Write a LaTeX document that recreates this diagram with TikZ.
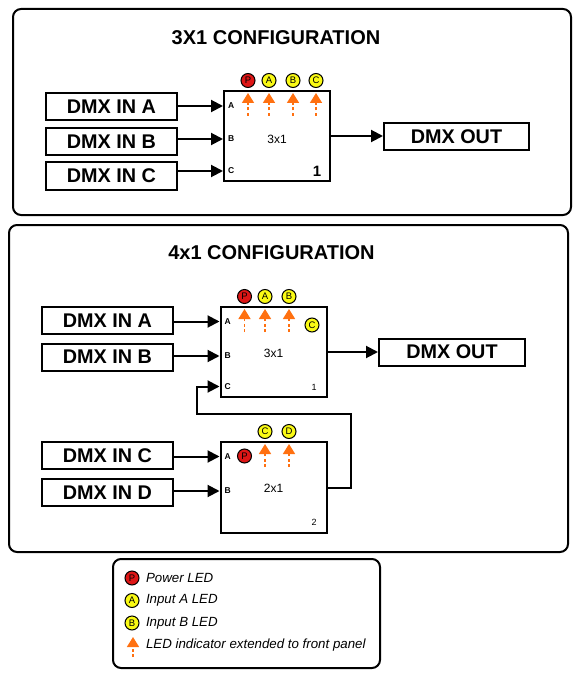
\documentclass[tikz,border=0pt]{standalone}
\usepackage{fontspec}
\setmainfont{Liberation Sans}
\usetikzlibrary{arrows.meta}
\definecolor{ledred}{RGB}{222,22,22}
\definecolor{ledyel}{RGB}{250,250,20}
\definecolor{indor}{RGB}{255,112,16}

\begin{document}
\begin{tikzpicture}[x=1pt, y=-1pt, line width=2pt,
  dmx/.style={draw, rectangle, minimum height=27pt, minimum width=131pt, inner sep=0pt, font=\fontsize{19.8}{19.8}\selectfont\bfseries},
  mx/.style={draw, rectangle, minimum height=90pt, minimum width=106pt, inner sep=0pt},
  ttl/.style={font=\fontsize{20}{20}\selectfont\bfseries},
  prt/.style={anchor=west, inner sep=0pt, font=\fontsize{8.5}{8.5}\selectfont\bfseries},
  led/.style={draw, circle, line width=1pt, fill=ledyel, minimum size=14pt, inner sep=0pt, font=\fontsize{9.5}{9.5}\selectfont},
  pwr/.style={led, fill=ledred},
  ind/.style={indor, line width=1.6pt, dash pattern=on 3pt off 2.5pt, -{Triangle[length=10pt, width=12pt]}},
  arr/.style={-{Triangle[length=12pt, width=12pt]}},
  pnl/.style={rounded corners=8pt, line width=2pt},
  lgd/.style={anchor=west, inner sep=0pt, font=\fontsize{13.3}{13.3}\selectfont\itshape}]

  \useasboundingbox (0,0) rectangle (579,679);

  % 3x1 configuration
  \draw[pnl] (13,9) rectangle (571,215);
  \node[ttl] (h1) at (276,38) {3X1 CONFIGURATION};
  \draw (111.5,107) node[dmx] (ina) {DMX IN A}
    ++(0,34.5) node[dmx] (inb) {DMX IN B}
    ++(0,34.5) node[dmx] (inc) {DMX IN C};
  \node[mx] (mx) at (277,136) {};
  \node[font=\fontsize{12}{12}\selectfont] (tx) at ([yshift=-3pt]mx.center) {3x1};
  \node[font=\fontsize{15}{15}\selectfont\bfseries] (nx) at ([xshift=-14pt, yshift=11pt]mx.south east) {1};
  \node[prt] (pa) at ([xshift=4pt, yshift=-16pt]mx.north west) {A};
  \node[prt] (pb) at ([xshift=4pt, yshift=-49pt]mx.north west) {B};
  \node[prt] (pc) at ([xshift=4pt, yshift=-81pt]mx.north west) {C};
  \node[pwr] (lp) at ([xshift=25pt, yshift=9.5pt]mx.north west) {P};
  \node[led] (la) at ([xshift=46pt, yshift=9.5pt]mx.north west) {A};
  \node[led] (lb) at ([xshift=70pt, yshift=9.5pt]mx.north west) {B};
  \node[led] (lc) at ([xshift=93pt, yshift=9.5pt]mx.north west) {C};
  \draw[ind] (lp |- mx.north) ++(0,26) -- ++(0,-23);
  \draw[ind] (la |- mx.north) ++(0,26) -- ++(0,-23);
  \draw[ind] (lb |- mx.north) ++(0,26) -- ++(0,-23);
  \draw[ind] (lc |- mx.north) ++(0,26) -- ++(0,-23);
  \draw[arr] (ina.east |- pa) -- (pa -| mx.west);
  \draw[arr] (inb.east |- pb) -- (pb -| mx.west);
  \draw[arr] (inc.east |- pc) -- (pc -| mx.west);
  \node[dmx, minimum width=145pt] (out) at (456.5,136.5) {DMX OUT};
  \draw[arr] (mx.east) -- (mx.east -| out.west);

  % 4x1 configuration
  \draw[pnl] (9,225) rectangle (568,552);
  \node[ttl] (h2) at (271.5,253) {4x1 CONFIGURATION};
  \draw (107.5,320.5) node[dmx] (ia) {DMX IN A}
    ++(0,36.5) node[dmx] (ib) {DMX IN B}
    ++(0,98.5) node[dmx] (ic) {DMX IN C}
    ++(0,37) node[dmx] (id) {DMX IN D};
  \node[mx] (mxa) at (273.5,352) {};
  \node[font=\fontsize{12}{12}\selectfont] (txa) at ([yshift=-1pt]mxa.center) {3x1};
  \node[font=\fontsize{9}{9}\selectfont] (nxa) at ([xshift=-13.5pt, yshift=11pt]mxa.south east) {1};
  \node[prt] (qa) at ([xshift=4pt, yshift=-15.5pt]mxa.north west) {A};
  \node[prt] (qb) at ([xshift=4pt, yshift=-50pt]mxa.north west) {B};
  \node[prt] (qc) at ([xshift=4pt, yshift=-80.5pt]mxa.north west) {C};
  \node[pwr] (lp1) at ([xshift=25pt, yshift=9.5pt]mxa.north west) {P};
  \node[led] (la1) at ([xshift=45.5pt, yshift=9.5pt]mxa.north west) {A};
  \node[led] (lb1) at ([xshift=69.5pt, yshift=9.5pt]mxa.north west) {B};
  \node[led] (lc1) at ([xshift=92.5pt, yshift=-19pt]mxa.north west) {C};
  \draw[ind] (lp1 |- mxa.north) ++(0,26) -- ++(0,-23);
  \draw[ind] (la1 |- mxa.north) ++(0,26) -- ++(0,-23);
  \draw[ind] (lb1 |- mxa.north) ++(0,26) -- ++(0,-23);
  \node[mx, minimum height=91pt] (mxb) at (273.5,487.5) {};
  \node[font=\fontsize{12}{12}\selectfont] (txb) at ([yshift=-1pt]mxb.center) {2x1};
  \node[font=\fontsize{9}{9}\selectfont] (nxb) at ([xshift=-13.5pt, yshift=12pt]mxb.south east) {2};
  \node[prt] (ra) at ([xshift=4pt, yshift=-15.5pt]mxb.north west) {A};
  \node[prt] (rb) at ([xshift=4pt, yshift=-50pt]mxb.north west) {B};
  \node[pwr] (lp2) at ([xshift=25pt, yshift=-15pt]mxb.north west) {P};
  \node[led] (lc2) at ([xshift=45.5pt, yshift=9.5pt]mxb.north west) {C};
  \node[led] (ld2) at ([xshift=69.5pt, yshift=9.5pt]mxb.north west) {D};
  \draw[ind] (lc2 |- mxb.north) ++(0,26) -- ++(0,-23);
  \draw[ind] (ld2 |- mxb.north) ++(0,26) -- ++(0,-23);
  \draw[arr] (ia.east |- qa) -- (qa -| mxa.west);
  \draw[arr] (ib.east |- qb) -- (qb -| mxa.west);
  \draw[arr] (ic.east |- ra) -- (ra -| mxb.west);
  \draw[arr] (id.east |- rb) -- (rb -| mxb.west);
  \draw[arr] (mxb.east) -- ++(23,0) |- ++(-154,-74) |- (qc -| mxa.west);
  \node[dmx, minimum width=146pt] (out2) at (452,352) {DMX OUT};
  \draw[arr] (mxa.east) -- (mxa.east -| out2.west);

  % legend
  \draw[pnl] (113,559) rectangle (380,668);
  \node[pwr] (gp) at (132,578) {P};
  \node[led] (ga) at (132,600.5) {A};
  \node[led] (gb) at (132,623) {B};
  \draw[ind] (gb) ++(1,34) -- ++(0,-20);
  \node[lgd] (tp) at (145,578) {Power LED};
  \node[lgd] (ta) at (145,600.5) {Input A LED};
  \node[lgd] (tb) at (145,623) {Input B LED};
  \node[lgd] (ti) at (145,645) {LED indicator extended to front panel};
\end{tikzpicture}
\end{document}
